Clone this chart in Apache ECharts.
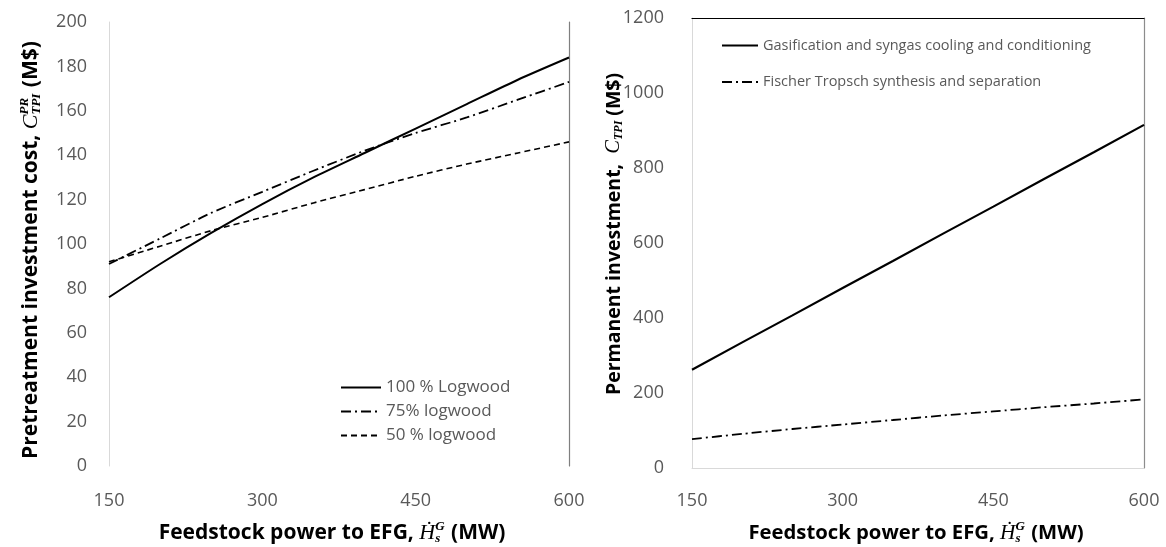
<!DOCTYPE html>
<html><head><meta charset="utf-8">
<script src="https://cdn.jsdelivr.net/npm/echarts@6/dist/echarts.min.js"></script>
<style>html,body{margin:0;padding:0;background:#fff}#c{width:1166px;height:547px}</style>
</head><body><div id="c"></div>
<script>
// ---- data ----
const feedPower = [150, 200, 250, 300, 350, 400, 450, 500, 550, 600];
const logwood100 = [76, 91, 105, 118, 130, 141, 152, 163, 174, 184];
const logwood75 = [91, 102.5, 114, 123.5, 133, 142, 150, 157, 165, 173];
const logwood50 = [92, 99, 106, 112, 118.5, 124.5, 130.5, 136, 141, 146];
const gasification = [262, 335, 407, 480, 552, 625, 697, 770, 842, 915];
const fischerTropsch = [77, 91, 104, 116, 128, 140, 151, 162, 172, 183];
const leftNames = ['100 % Logwood', '75% logwood', '50 % logwood'];
const rightNames = ['Gasification and syngas cooling and conditioning', 'Fischer Tropsch synthesis and separation'];

const pair = arr => feedPower.map((x, i) => [x, arr[i]]);

// ---- title builder (mixed fonts) ----
const cv = document.createElement('canvas').getContext('2d');
function measure(font, t) { cv.font = font; return cv.measureText(t).width; }
function buildTitle(segs, cx, cy, vertical, size) {
  const TF = "bold " + size + "px 'Open Sans'";
  const MF = "italic " + (size + 1) + "px 'Liberation Serif', 'DejaVu Serif'";
  const SF = "italic bold " + Math.round(size * 0.62) + "px 'Liberation Serif', 'DejaVu Serif'";
  let x = 0; const items = [];
  segs.forEach(s => {
    if (s.stack) {
      const w = Math.max(measure(SF, s.stack[0]), measure(SF, s.stack[1]));
      items.push({ t: s.stack[0], f: SF, x: x, y: -6 });
      items.push({ t: s.stack[1], f: SF, x: x, y: 6 });
      x += w + 1;
    } else if (s.sub) {
      items.push({ t: s.sub, f: SF, x: x, y: 5 });
      x += measure(SF, s.sub);
    } else {
      const f = s.math ? MF : TF;
      items.push({ t: s.t, f: f, x: x, y: 0 });
      x += measure(f, s.t);
    }
  });
  const off = -x / 2;
  return {
    type: 'group', x: cx, y: cy, rotation: vertical ? Math.PI / 2 : 0, silent: true,
    children: items.map(it => ({
      type: 'text', x: it.x + off, y: it.y,
      style: { text: it.t, font: it.f, fill: '#000', align: 'left', verticalAlign: 'middle' }
    }))
  };
}

const chart = echarts.init(document.getElementById('c'), null, { renderer: 'canvas' });
const labelStyle = { color: '#595959', fontSize: 18, fontFamily: 'Open Sans', formatter: v => String(v) };
const solid = { color: '#000', width: 2, type: 'solid' };
const dashDot = { color: '#000', width: 1.8, type: [10, 4, 2, 4] };
const dashed = { color: '#000', width: 1.6, type: [6, 4] };
const noLine = { show: false };

chart.setOption({
  animation: false,
  backgroundColor: '#fff',
  grid: [
    { left: 109, right: 597, top: 22, bottom: 81 },
    { left: 692, right: 22, top: 18, bottom: 79 }
  ],
  xAxis: [
    { type: 'value', gridIndex: 0, position: 'bottom', min: 150, max: 600, interval: 150,
      axisLine: { show: false, onZero: false }, axisTick: noLine, splitLine: noLine,
      axisLabel: Object.assign({ margin: 26 }, labelStyle) },
    { type: 'value', gridIndex: 1, position: 'bottom', min: 150, max: 600, interval: 150,
      axisLine: { show: true, onZero: false, lineStyle: { color: '#d9d9d9', width: 1 } }, axisTick: noLine, splitLine: noLine,
      axisLabel: Object.assign({ margin: 24 }, labelStyle) },
    { type: 'value', gridIndex: 1, position: 'top', min: 150, max: 600, interval: 150,
      axisLine: { show: true, onZero: false, lineStyle: { color: '#000', width: 1.2 } }, axisTick: noLine,
      splitLine: noLine, axisLabel: { show: false } }
  ],
  yAxis: [
    { type: 'value', gridIndex: 0, position: 'left', min: 0, max: 200, interval: 20,
      axisLine: { show: true, onZero: false, lineStyle: { color: '#d9d9d9', width: 1 } }, axisTick: noLine, splitLine: noLine,
      axisLabel: Object.assign({ margin: 22 }, labelStyle) },
    { type: 'value', gridIndex: 0, position: 'right', min: 0, max: 200, interval: 20,
      axisLine: { show: true, onZero: false, lineStyle: { color: '#7f7f7f', width: 1.2 } }, axisTick: noLine,
      splitLine: noLine, axisLabel: { show: false } },
    { type: 'value', gridIndex: 1, position: 'left', min: 0, max: 1200, interval: 200,
      axisLine: { show: true, onZero: false, lineStyle: { color: '#d9d9d9', width: 1 } }, axisTick: noLine, splitLine: noLine,
      axisLabel: Object.assign({ margin: 28 }, labelStyle) },
    { type: 'value', gridIndex: 1, position: 'right', min: 0, max: 1200, interval: 200,
      axisLine: { show: true, onZero: false, lineStyle: { color: '#8c8c8c', width: 1.2 } }, axisTick: noLine,
      splitLine: noLine, axisLabel: { show: false } }
  ],
  legend: [
    { data: leftNames, orient: 'vertical', left: 340, top: 379, itemWidth: 40, itemHeight: 14, itemGap: 7,
      itemStyle: { color: 'transparent', borderWidth: 0, opacity: 0 },
      textStyle: { color: '#595959', fontSize: 17, fontFamily: 'Open Sans' }, padding: 0 },
    { data: rightNames, orient: 'vertical', left: 721, top: 38, itemWidth: 36, itemHeight: 14, itemGap: 21.5,
      itemStyle: { color: 'transparent', borderWidth: 0, opacity: 0 },
      textStyle: { color: '#595959', fontSize: 14.5, fontFamily: 'Open Sans' }, padding: 0 }
  ],
  series: [
    { name: leftNames[0], type: 'line', xAxisIndex: 0, yAxisIndex: 0, data: pair(logwood100), symbol: 'none', smooth: 0.25, lineStyle: solid, itemStyle: { color: '#000' } },
    { name: leftNames[1], type: 'line', xAxisIndex: 0, yAxisIndex: 0, data: pair(logwood75), symbol: 'none', smooth: 0.25, lineStyle: dashDot, itemStyle: { color: '#000' } },
    { name: leftNames[2], type: 'line', xAxisIndex: 0, yAxisIndex: 0, data: pair(logwood50), symbol: 'none', smooth: 0.25, lineStyle: dashed, itemStyle: { color: '#000' } },
    { name: rightNames[0], type: 'line', xAxisIndex: 1, yAxisIndex: 2, data: pair(gasification), symbol: 'none', lineStyle: { color: '#000', width: 2.2 }, itemStyle: { color: '#000' } },
    { name: rightNames[1], type: 'line', xAxisIndex: 1, yAxisIndex: 2, data: pair(fischerTropsch), symbol: 'none', smooth: 0.25, lineStyle: dashDot, itemStyle: { color: '#000' } }
  ],
  graphic: [
    buildTitle([{ t: 'Feedstock power to EFG, ' }, { t: 'Ḣ', math: true }, { stack: ['G', 's'] }, { t: ' (MW)' }], 332, 533, false, 21),
    buildTitle([{ t: 'Feedstock power to EFG, ' }, { t: 'Ḣ', math: true }, { stack: ['G', 's'] }, { t: ' (MW)' }], 916, 533, false, 20.3),
    buildTitle([{ t: 'Pretreatment investment cost, ' }, { t: 'C', math: true }, { stack: ['PR', 'TPI'] }, { t: ' (M$)' }], 31, 250, true, 21),
    buildTitle([{ t: 'Permanent investment,  ' }, { t: 'C', math: true }, { sub: 'TPI' }, { t: ' (M$)' }], 614, 234, true, 19.5)
  ]
});
</script></body></html>
